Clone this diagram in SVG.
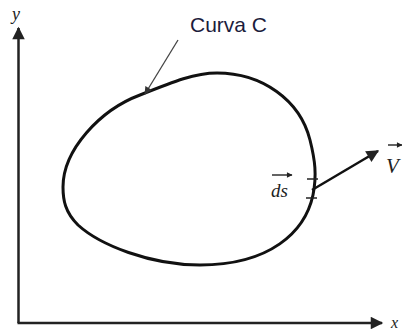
<svg xmlns="http://www.w3.org/2000/svg" width="402" height="331" viewBox="0 0 402 331">
<defs>
<style>
.ax{stroke:#222;stroke-width:2.5;fill:none}
.crv{stroke:#111;stroke-width:3;fill:none}
.lbl{font-family:"Liberation Serif","DejaVu Serif",serif;font-style:italic;fill:#222}
.cap{font-family:"Liberation Sans",Arial,sans-serif;fill:#1c1c3c;font-size:21px}
</style>
<marker id="ah" viewBox="0 0 10 10" refX="9" refY="5" markerWidth="6" markerHeight="5" markerUnits="strokeWidth" orient="auto">
<path d="M0,0 L10,5 L0,10 Z" fill="#222"/>
</marker>
<marker id="ahs" viewBox="0 0 10 10" refX="9" refY="5" markerWidth="7" markerHeight="6" markerUnits="strokeWidth" orient="auto">
<path d="M0,0 L10,5 L0,10 Z" fill="#333"/>
</marker>
<marker id="ahv" viewBox="0 0 10 10" refX="9" refY="5" markerWidth="5" markerHeight="4" markerUnits="strokeWidth" orient="auto">
<path d="M0,0 L10,5 L0,10 Z" fill="#222"/>
</marker>
</defs>
<g id="axes">
<line class="ax" x1="18.5" y1="323" x2="18.5" y2="28" marker-end="url(#ah)"/>
<line class="ax" x1="17.5" y1="323" x2="382" y2="323" marker-end="url(#ah)"/>
<text class="lbl" x="12" y="20" font-size="18">y</text>
<text class="lbl" x="391" y="328" font-size="16">x</text>
</g>
<g id="curve">
<path class="crv" d="M63,187 C63,150 100,110 140,95 C175,81 195,73 217,73 C262,73 300,100 310,140 C315,160 317,175 313,195 C305,232 270,265 200,265 C150,265 100,245 78,225 C65,212 63,200 63,187 Z"/>
<line x1="307" y1="179" x2="318" y2="179" stroke="#222" stroke-width="1.5"/>
<line x1="306" y1="198" x2="317" y2="198" stroke="#222" stroke-width="1.5"/>
</g>
<g id="label-curva">
<text class="cap" x="190" y="32">Curva C</text>
</g>
<g id="connectors">
<line x1="178" y1="40" x2="145" y2="94" stroke="#444" stroke-width="1.3" marker-end="url(#ahs)"/>
<line x1="312" y1="190" x2="378" y2="151" stroke="#111" stroke-width="2.5" marker-end="url(#ah)"/>
</g>
<g id="label-ds">
<text class="lbl" x="271" y="197" font-size="19">ds</text>
<line x1="272" y1="175" x2="292" y2="175" stroke="#222" stroke-width="1.4" marker-end="url(#ahv)"/>
</g>
<g id="label-v">
<text class="lbl" x="386" y="173" font-size="21">V</text>
<line x1="388" y1="145" x2="402" y2="145" stroke="#222" stroke-width="1.4" marker-end="url(#ahv)"/>
</g>
</svg>
